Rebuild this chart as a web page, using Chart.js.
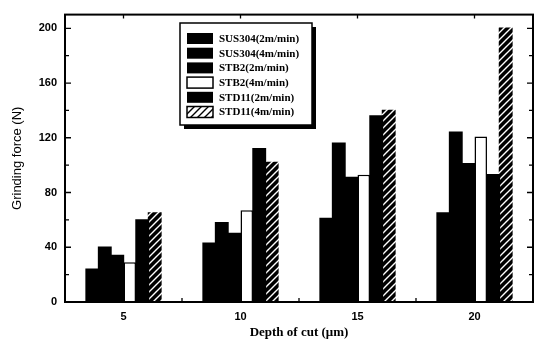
<!DOCTYPE html>
<html>
<head>
<meta charset="utf-8">
<script src="https://cdn.jsdelivr.net/npm/chart.js@4.4.0/dist/chart.umd.min.js"></script>
<style>
  html, body { margin: 0; padding: 0; background: #fff; }
  #wrap { width: 535px; height: 344px; }
</style>
</head>
<body>
<div id="wrap"><canvas id="grafico" width="535" height="344"></canvas></div>
<script>
// datos
const depths = ['5', '10', '15', '20'];
const seriesNames = ['SUS304(2m/min)', 'SUS304(4m/min)', 'STB2(2m/min)', 'STB2(4m/min)', 'STD11(2m/min)', 'STD11(4m/min)'];
const sus304_2 = [24, 43, 61, 65];
const sus304_4 = [40, 58, 116, 124];
const stb2_2 = [34, 50, 91, 101];
const stb2_4 = [29, 67, 93, 121];
const std11_2 = [60, 112, 136, 93];
const std11_4 = [65, 102, 140, 200];
const yTicks = [0, 40, 80, 120, 160, 200];

function hatch(bg, fg) {
  const c = document.createElement('canvas');
  c.width = 7; c.height = 7;
  const g = c.getContext('2d');
  g.fillStyle = bg; g.fillRect(0, 0, 7, 7);
  g.strokeStyle = fg; g.lineWidth = 1.4;
  g.beginPath();
  g.moveTo(-1, 8); g.lineTo(8, -1);
  g.moveTo(-1, 1); g.lineTo(1, -1);
  g.moveTo(6, 8); g.lineTo(8, 6);
  g.stroke();
  return g.createPattern(c, 'repeat');
}
const ctx0 = document.getElementById('grafico').getContext('2d');
const hatchBar = hatch('#000', '#fff');
const hatchLeg = hatch('#fff', '#000');

const valores = [sus304_2, sus304_4, stb2_2, stb2_4, std11_2, std11_4];
const datasets = valores.map((v, i) => ({
  label: seriesNames[i],
  data: v,
  backgroundColor: i === 5 ? hatchBar : (i === 3 ? '#fff' : '#000'),
  borderColor: '#000',
  borderWidth: i === 3 ? 1.5 : 0,
  inflateAmount: i === 3 ? 0 : 0.7,
  categoryPercentage: 0.64,
  barPercentage: 1.0
}));

// marco, ticks hacia adentro y leyenda
const marco = {
  id: 'marco',
  afterDatasetsDraw(chart) {
    const { ctx, chartArea: a, scales } = chart;
    const y = scales.y, x = scales.x;
    ctx.save();
    ctx.strokeStyle = '#000';
    ctx.lineWidth = 1.3;
    ctx.beginPath();
    for (let v = 0; v <= 200; v += 20) {
      const py = y.getPixelForValue(v);
      const len = v % 40 === 0 ? 6 : 4;
      ctx.moveTo(a.left, py); ctx.lineTo(a.left + len, py);
      ctx.moveTo(a.right, py); ctx.lineTo(a.right - len, py);
    }
    for (let i = 0; i < depths.length; i++) {
      const px = x.getPixelForValue(i);
      ctx.moveTo(px, a.top); ctx.lineTo(px, a.top + 4);
      if (i > 0) {
        const pm = (x.getPixelForValue(i - 1) + px) / 2;
        ctx.moveTo(pm, a.bottom); ctx.lineTo(pm, a.bottom - 4);
      }
    }
    ctx.stroke();
    ctx.lineWidth = 2;
    ctx.strokeRect(a.left, a.top, a.right - a.left, a.bottom - a.top);

    // leyenda con sombra
    const lx = 180, ly = 23, lw = 132, lh = 102;
    ctx.fillStyle = '#000';
    ctx.fillRect(lx + 4, ly + 4, lw, lh);
    ctx.fillStyle = '#fff';
    ctx.fillRect(lx, ly, lw, lh);
    ctx.lineWidth = 1.5;
    ctx.strokeRect(lx, ly, lw, lh);
    ctx.font = 'bold 11px "Liberation Serif"';
    ctx.textBaseline = 'middle';
    chart.data.datasets.forEach((ds, i) => {
      const cy = 38.5 + i * 14.7;
      ctx.fillStyle = i === 5 ? hatchLeg : ds.backgroundColor;
      ctx.fillRect(187, cy - 5.5, 26, 11);
      if (i === 3 || i === 5) {
        ctx.lineWidth = 1.5;
        ctx.strokeRect(187, cy - 5.5, 26, 11);
      }
      ctx.fillStyle = '#000';
      ctx.fillText(ds.label, 219, cy + 0.5);
    });
    ctx.restore();
  }
};

new Chart(ctx0, {
  type: 'bar',
  data: { labels: depths, datasets: datasets },
  options: {
    responsive: false,
    animation: false,
    layout: { padding: { top: 12, right: 2, left: 0, bottom: 0 } },
    plugins: { legend: { display: false }, tooltip: { enabled: false } },
    scales: {
      x: {
        grid: { display: false, drawTicks: false },
        border: { display: false },
        ticks: { color: '#000', padding: 8, font: { family: 'Liberation Sans', weight: 'bold', size: 11 } },
        title: { display: true, text: 'Depth of cut (μm)', color: '#000', padding: { top: 2, bottom: 4 },
                 font: { family: 'Liberation Serif', weight: 'bold', size: 13 } },
        afterFit(s) { s.height = 42; }
      },
      y: {
        min: 0, max: 210,
        afterBuildTicks(s) { s.ticks = yTicks.map(v => ({ value: v })); },
        grid: { display: false, drawTicks: false },
        border: { display: false },
        ticks: { color: '#000', padding: 8, font: { family: 'Liberation Sans', weight: 'bold', size: 11 } },
        title: { display: true, text: 'Grinding force (N)', color: '#000', padding: { top: 10, bottom: 4 },
                 font: { family: 'Liberation Sans', size: 13 } },
        afterFit(s) { s.width = 65; }
      }
    }
  },
  plugins: [marco]
});
</script>
</body>
</html>
